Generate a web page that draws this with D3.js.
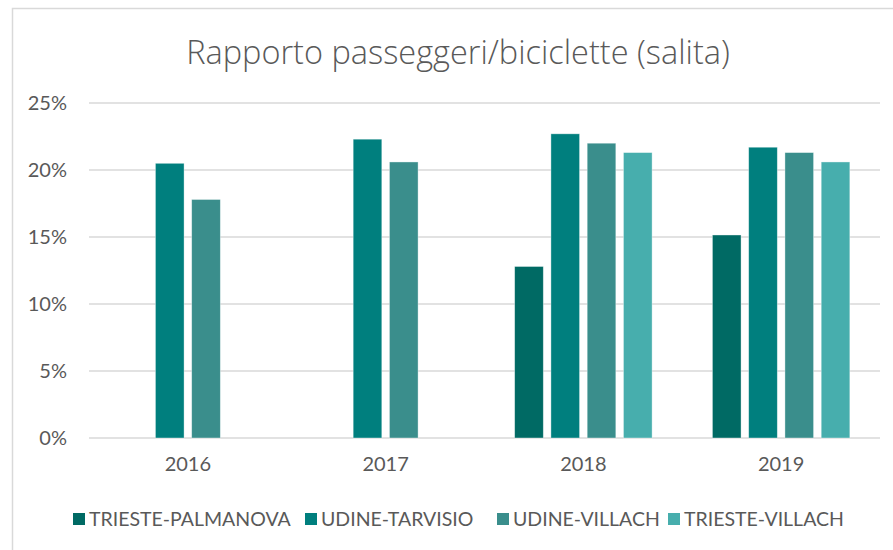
<!DOCTYPE html>
<html>
<head>
<meta charset="utf-8">
<script src="https://cdn.jsdelivr.net/npm/d3@7"></script>
<style>
  html, body { margin: 0; padding: 0; background: #fff; }
  svg { display: block; font-family: Lato, "Open Sans", sans-serif; }
</style>
</head>
<body>
<svg id="chart" width="893" height="550"></svg>
<script>
const title = "Rapporto passeggeri/biciclette (salita)";
const years = ["2016", "2017", "2018", "2019"];
const seriesNames = ["TRIESTE-PALMANOVA", "UDINE-TARVISIO", "UDINE-VILLACH", "TRIESTE-VILLACH"];
const seriesColors = ["#006A64", "#007F7E", "#3A8E8C", "#47AEAD"];
// values in %, null = no bar
const triestePalmanova = [null, null, 12.8, 15.15];
const udineTarvisio   = [20.5, 22.3, 22.7, 21.7];
const udineVillach    = [17.8, 20.6, 22.0, 21.3];
const triesteVillach  = [null, null, 21.3, 20.6];
const yTicks = [0, 5, 10, 15, 20, 25];

const seriesValues = [triestePalmanova, udineTarvisio, udineVillach, triesteVillach];

const svg = d3.select("#chart");

// chart frame
svg.append("path")
  .attr("d", "M12.5,560 V8.5 H900")
  .attr("fill", "none").attr("stroke", "#D9D9D9").attr("stroke-width", 1.5);

svg.append("text")
  .attr("x", 458).attr("y", 64)
  .attr("text-anchor", "middle")
  .attr("font-family", "'Open Sans', sans-serif")
  .attr("font-size", 32.5).attr("fill", "#595959")
  .attr("font-weight", 300)
  .text(title);

const x0 = d3.scaleBand().domain(years).range([89, 880]).paddingInner(0).paddingOuter(0);
const groupW = x0.bandwidth() * 0.695;
const x1 = d3.scaleBand().domain(seriesNames).range([0, groupW]).paddingInner(0.21);
const y = d3.scaleLinear().domain([0, 25]).range([438, 103]);

// gridlines
const grid = svg.append("g");
grid.selectAll("line").data(yTicks).join("line")
  .attr("x1", 89).attr("x2", 880)
  .attr("y1", d => y(d)).attr("y2", d => y(d))
  .attr("stroke", "#D9D9D9").attr("stroke-width", 1.5);

// y axis labels
const yAxis = d3.axisLeft(y).tickValues(yTicks).tickFormat(d => d + "%").tickSize(0).tickPadding(0);
const yg = svg.append("g").attr("transform", "translate(67,0)").call(yAxis);
yg.select(".domain").remove();
yg.selectAll("text").attr("font-size", 20).attr("fill", "#595959").attr("font-family", "Lato, 'Open Sans', sans-serif");

// bars
const groups = svg.append("g").selectAll("g").data(years).join("g")
  .attr("transform", d => `translate(${x0(d) + (x0.bandwidth() - groupW) / 2},0)`);

groups.selectAll("rect")
  .data((yr, i) => seriesNames.map((s, j) => ({ s, j, v: seriesValues[j][i] })).filter(d => d.v != null))
  .join("rect")
  .attr("x", d => x1(d.s))
  .attr("width", x1.bandwidth())
  .attr("y", d => y(d.v))
  .attr("height", d => y(0) - y(d.v))
  .attr("fill", d => seriesColors[d.j])
  .attr("stroke", "#ffffff").attr("stroke-opacity", 0.5).attr("stroke-width", 0.75);

// x axis labels
const xAxis = d3.axisBottom(x0).tickSize(0).tickPadding(0);
const xg = svg.append("g").attr("transform", "translate(0,460)").call(xAxis);
xg.select(".domain").remove();
xg.selectAll("text").attr("font-size", 20).attr("fill", "#595959").attr("font-family", "Lato, 'Open Sans', sans-serif").attr("dy", "0.55em");

// legend
const legendX = [73, 305, 497, 668];
const legend = svg.append("g").selectAll("g").data(seriesNames).join("g")
  .attr("transform", (d, i) => `translate(${legendX[i]},519)`);
legend.append("rect").attr("x", 0).attr("y", -6).attr("width", 12).attr("height", 12)
  .attr("fill", (d, i) => seriesColors[i]);
legend.append("text").attr("x", 16).attr("y", 0).attr("dy", "0.36em")
  .attr("font-size", 19.5).attr("fill", "#595959")
  .text(d => d);
</script>
</body>
</html>
